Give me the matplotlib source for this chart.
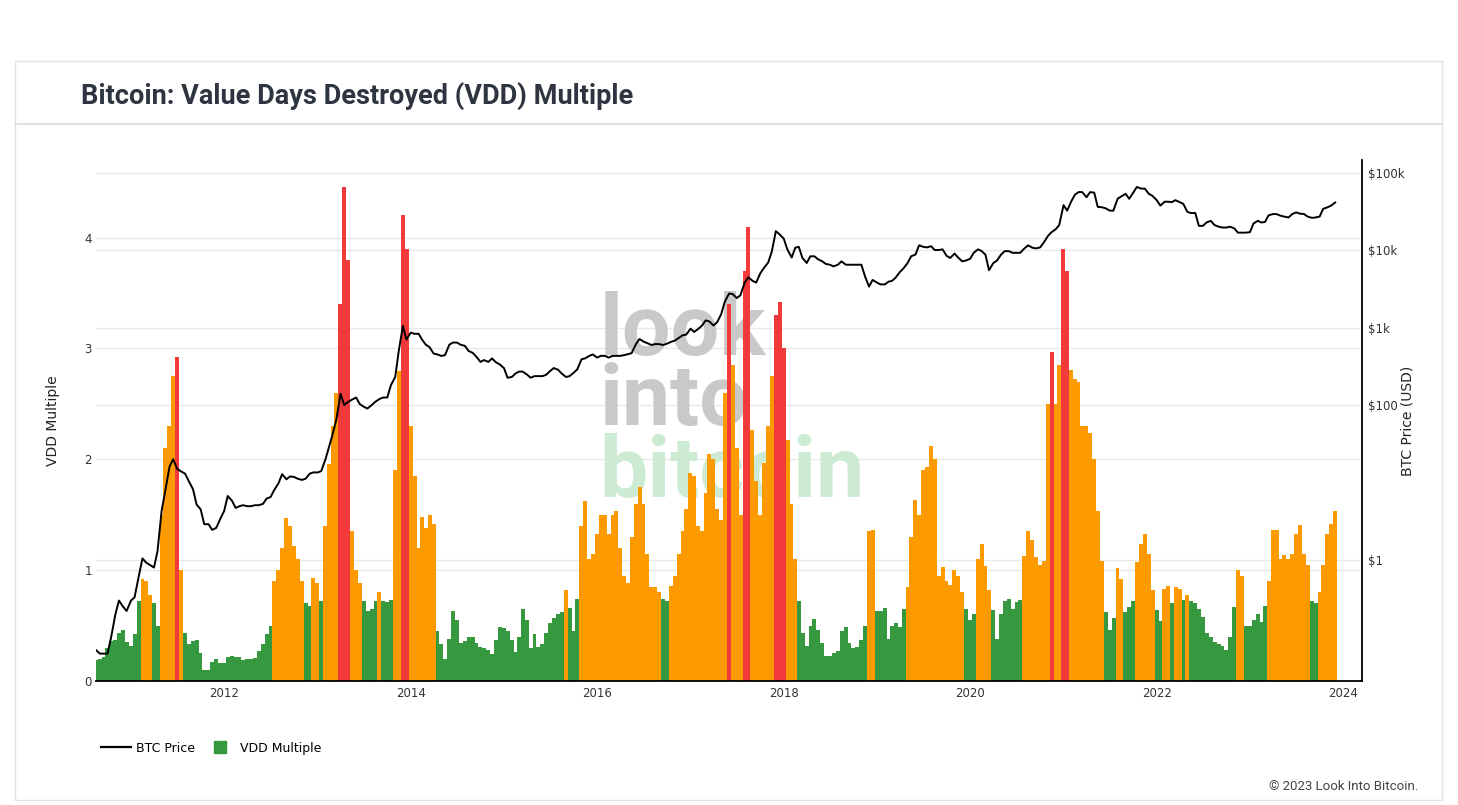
import matplotlib
matplotlib.use("Agg")
import matplotlib.pyplot as plt
import matplotlib.dates as mdates
from matplotlib.lines import Line2D
from matplotlib.patches import Rectangle
from matplotlib.ticker import NullLocator
import numpy as np
import pandas as pd

# VDD multiple, every half month (1st and 15th), starting 2010-08-15
vdd_2010 = [0.19, 0.2, 0.22, 0.3, 0.36, 0.37, 0.43, 0.46, 0.35]
vdd_2011 = [0.32, 0.42, 0.72, 0.92, 0.9, 0.78, 0.7, 0.5, 1.5, 2.1, 2.3, 2.75,
            2.92, 1.0, 0.43, 0.33, 0.36, 0.37, 0.25, 0.1, 0.1, 0.17, 0.2, 0.16]
vdd_2012 = [0.16, 0.22, 0.23, 0.22, 0.22, 0.19, 0.2, 0.2, 0.21, 0.27, 0.33, 0.42,
            0.5, 0.9, 1.0, 1.2, 1.47, 1.4, 1.22, 1.1, 0.9, 0.7, 0.68, 0.93]
vdd_2013 = [0.88, 0.72, 1.4, 1.96, 2.3, 2.6, 3.4, 4.46, 3.8, 1.35, 1.0, 0.88,
            0.72, 0.63, 0.65, 0.72, 0.8, 0.72, 0.71, 0.73, 1.9, 2.8, 4.2, 3.9]
vdd_2014 = [2.3, 1.85, 1.2, 1.48, 1.38, 1.5, 1.42, 0.45, 0.33, 0.2, 0.38, 0.63,
            0.55, 0.34, 0.36, 0.4, 0.4, 0.34, 0.31, 0.3, 0.28, 0.24, 0.37, 0.49]
vdd_2015 = [0.48, 0.45, 0.37, 0.26, 0.4, 0.65, 0.55, 0.3, 0.42, 0.31, 0.33, 0.43,
            0.52, 0.57, 0.6, 0.62, 0.82, 0.66, 0.45, 0.74, 1.4, 1.62, 1.1, 1.15]
vdd_2016 = [1.33, 1.5, 1.5, 1.33, 1.5, 1.53, 1.2, 0.95, 0.88, 1.3, 1.6, 1.75,
            1.6, 1.15, 0.85, 0.85, 0.8, 0.74, 0.72, 0.86, 0.95, 1.15, 1.35, 1.55]
vdd_2017 = [1.88, 1.85, 1.4, 1.35, 1.7, 2.05, 2.0, 1.55, 1.45, 2.6, 3.4, 2.85,
            2.1, 1.5, 3.7, 4.1, 2.26, 1.8, 1.5, 1.97, 2.3, 2.75, 3.3, 3.42]
vdd_2018 = [3.0, 2.17, 1.6, 1.1, 0.72, 0.43, 0.32, 0.5, 0.56, 0.46, 0.34, 0.23,
            0.23, 0.25, 0.27, 0.45, 0.49, 0.34, 0.3, 0.31, 0.37, 0.5, 1.35, 1.36]
vdd_2019 = [0.63, 0.63, 0.66, 0.38, 0.5, 0.52, 0.49, 0.65, 0.85, 1.3, 1.63, 1.5,
            1.9, 1.93, 2.12, 2.0, 0.95, 1.03, 0.9, 0.87, 1.0, 0.95, 0.8, 0.65]
vdd_2020 = [0.55, 0.6, 1.1, 1.24, 1.04, 0.82, 0.64, 0.38, 0.6, 0.72, 0.74, 0.65,
            0.71, 0.73, 1.13, 1.35, 1.27, 1.12, 1.05, 1.08, 2.5, 2.97, 2.5, 2.85]
vdd_2021 = [3.9, 3.7, 2.81, 2.72, 2.7, 2.3, 2.3, 2.24, 2.0, 1.53, 1.08, 0.62,
            0.46, 0.57, 1.02, 0.92, 0.62, 0.67, 0.72, 1.07, 1.24, 1.33, 1.15, 0.82]
vdd_2022 = [0.64, 0.54, 0.83, 0.86, 0.7, 0.85, 0.83, 0.73, 0.78, 0.72, 0.7, 0.65,
            0.58, 0.43, 0.4, 0.35, 0.33, 0.32, 0.28, 0.4, 0.67, 1.0, 0.95, 0.5]
vdd_2023 = [0.5, 0.55, 0.6, 0.53, 0.68, 0.9, 1.36, 1.36, 1.1, 1.14, 1.1, 1.15,
            1.33, 1.41, 1.15, 1.05, 0.72, 0.7, 0.8, 1.05, 1.33, 1.42, 1.53]

# BTC price (USD) on the same dates
price_2010 = [0.07, 0.062, 0.062, 0.062, 0.1, 0.2, 0.3, 0.25, 0.22]
price_2011 = [0.3, 0.33, 0.63, 1.05, 0.93, 0.87, 0.8, 1.3, 4.3, 7.7, 16, 20,
              15, 14, 13, 10.5, 8.2, 5.2, 4.5, 2.9, 2.9, 2.45, 2.6, 3.3]
price_2012 = [4.3, 6.7, 5.8, 4.7, 4.95, 5.1, 4.95, 4.95, 5.1, 5.1, 5.3, 6.2,
              6.5, 8, 9.8, 12.8, 11, 12, 11.8, 11.2, 10.8, 11.2, 13, 13.5]
price_2013 = [13.5, 14, 20, 29, 42, 64, 140, 100, 110, 117, 125, 103,
              95, 90, 100, 110, 120, 125, 125, 180, 230, 500, 1050, 700]
price_2014 = [860, 830, 830, 690, 600, 560, 460, 450, 430, 440, 600, 640,
              640, 600, 580, 500, 470, 420, 360, 380, 360, 400, 355, 335]
price_2015 = [300, 225, 230, 255, 270, 270, 248, 225, 236, 236, 236, 245,
              275, 300, 285, 255, 230, 236, 261, 288, 390, 400, 430, 450]
price_2016 = [409, 431, 431, 409, 430, 431, 431, 440, 453, 467, 611, 711,
              657, 630, 594, 611, 611, 594, 620, 650, 680, 730, 794, 811]
price_2017 = [965, 877, 965, 1063, 1235, 1200, 1063, 1170, 1490, 2150, 2750, 2700,
              2400, 2600, 3800, 4450, 4000, 3800, 5000, 5850, 6900, 9500, 17500, 16000]
price_2018 = [14000, 10200, 8000, 10700, 11000, 7900, 6800, 8300, 8300, 7600, 7140, 6600,
              6460, 6150, 6460, 7140, 6460, 6460, 6460, 6460, 6460, 4600, 3370, 4110]
price_2019 = [3800, 3600, 3600, 3900, 4000, 4400, 5200, 5800, 6800, 8300, 8740, 11500,
              11000, 10800, 11200, 10000, 10000, 10200, 8400, 7900, 9000, 8000, 7140, 7300]
price_2020 = [7700, 9200, 10200, 9700, 8700, 5500, 6800, 7300, 8700, 9660, 9660, 9200,
              9200, 9200, 10500, 11500, 10700, 10500, 10800, 12400, 15200, 17000, 18500, 21000]
price_2021 = [38000, 32200, 43000, 52000, 55900, 55900, 48000, 55900, 55000, 36000, 35600, 34500,
              32200, 32200, 46000, 49000, 53100, 45800, 55000, 65000, 62000, 62000, 53100, 50000]
price_2022 = [44000, 37400, 42000, 42000, 41400, 44000, 41400, 39400, 31000, 30000, 30000, 20500,
              20500, 22650, 23800, 21000, 20000, 19500, 19500, 20000, 19000, 16750, 16750, 16750]
price_2023 = [17000, 22000, 23800, 22650, 23000, 28000, 29100, 29100, 27700, 27000, 26300, 29000,
              30600, 29500, 29100, 27000, 26000, 26300, 27000, 34000, 35600, 37400, 41000]

price_ticks = [1, 100, 1000, 10000, 100000]
price_tick_labels = ["$1", "$100", "$1k", "$10k", "$100k"]

vdd = np.concatenate([vdd_2010, vdd_2011, vdd_2012, vdd_2013, vdd_2014, vdd_2015, vdd_2016,
                      vdd_2017, vdd_2018, vdd_2019, vdd_2020, vdd_2021, vdd_2022, vdd_2023])
price = np.concatenate([price_2010, price_2011, price_2012, price_2013, price_2014, price_2015,
                        price_2016, price_2017, price_2018, price_2019, price_2020, price_2021,
                        price_2022, price_2023])
dates = pd.date_range("2010-08-15", periods=len(vdd), freq="SMS")

# each column covers the half month around its date, edges halfway between samples
nums = mdates.date2num(dates)
edges = np.concatenate([[nums[0] - 7.5], (nums[:-1] + nums[1:]) / 2, [nums[-1] + 7.5]])

GREEN, ORANGE, RED = "#36993f", "#fd9a00", "#f23a3a"
colors = np.where(vdd >= 2.9, RED, np.where(vdd >= 0.75, ORANGE, GREEN))

W, H = 1458, 805
fig = plt.figure(figsize=(W / 100, H / 100), dpi=100)

# card frame + header
fig.add_artist(Rectangle((15 / W, 1 - 800 / H), (1442 - 15) / W, (800 - 61) / H,
                         transform=fig.transFigure, fill=False, edgecolor="#e2e2e2", lw=1))
fig.add_artist(Line2D([15 / W, 1442 / W], [1 - 124 / H] * 2, color="#e2e2e2", lw=1.5))
fig.text(81 / W, 1 - 104 / H, "Bitcoin: Value Days Destroyed (VDD) Multiple",
         fontfamily="Roboto", fontweight="bold", fontsize=19.5, color="#2f3540", va="baseline")

ax = fig.add_axes([96 / W, 1 - 681 / H, 1266 / W, 521 / H])
ax2 = ax.twinx()

# BTC price (log axis on the right)
ax2.semilogy(nums, price, color="black", lw=1.4, zorder=3)
ax2.set_ylim(0.0275, 145000)
ax2.set_yticks(price_ticks)
ax2.set_yticklabels(price_tick_labels)
ax2.yaxis.set_minor_locator(NullLocator())

# VDD columns, one filled step outline per colour band so no seams show
for c in (GREEN, ORANGE, RED):
    ax.stairs(np.where(colors == c, vdd, 0.0), edges, fill=True, color=c,
              linewidth=0, zorder=2)
ax.set_ylim(0, 4.70)
ax.set_yticks([0, 1, 2, 3, 4])
ax.set_axisbelow(True)
ax.yaxis.grid(True, color="#e9e9e9", lw=1, zorder=0)

# gridlines of the price axis, kept under the columns
for v in price_ticks:
    ax.plot([0, 1], [v, v], transform=ax2.get_yaxis_transform(), color="#e9e9e9",
            lw=1, zorder=0.5, scalex=False, scaley=False)

# watermark
wm = dict(transform=ax.transAxes, fontfamily="Roboto", fontweight="bold", fontsize=62,
          va="baseline", ha="left", zorder=1)
ax.text(0.398, 0.626, "look", color="#c9c9c9", **wm)
ax.text(0.398, 0.491, "into", color="#c9c9c9", **wm)
ax.text(0.398, 0.353, "bitcoin", color="#cdebd3", **wm)

ax.set_xlim(mdates.date2num(pd.Timestamp("2010-08-17")),
            mdates.date2num(pd.Timestamp("2024-03-15")))
ax.xaxis.set_major_locator(mdates.YearLocator(2))
ax.xaxis.set_major_formatter(mdates.DateFormatter("%Y"))

for a in (ax, ax2):
    for s in ("top", "left"):
        a.spines[s].set_visible(False)
ax.spines["right"].set_visible(False)
ax2.spines["bottom"].set_visible(False)
ax.spines["bottom"].set_color("black")
ax.spines["bottom"].set_linewidth(1.3)
ax2.spines["right"].set_color("black")
ax2.spines["right"].set_linewidth(1.3)

ax.tick_params(axis="x", length=0, pad=4, labelsize=8.5, labelcolor="#333")
ax.tick_params(axis="y", length=0, pad=3, labelsize=8.5, labelcolor="#333")
ax2.tick_params(axis="y", length=0, pad=4.5, labelsize=8.5, labelcolor="#333")

ax.set_ylabel("VDD Multiple", fontsize=10, color="#222")
ax.yaxis.set_label_coords(-0.0284, 0.5)
ax2.set_ylabel("BTC Price (USD)", fontsize=10, color="#222")
ax2.yaxis.set_label_coords(1.0308, 0.5)

handles = [Line2D([], [], color="black", lw=1.6),
           Line2D([], [], marker="s", linestyle="none", markersize=9, color=GREEN)]
fig.legend(handles, ["BTC Price", "VDD Multiple"], loc="center left",
           bbox_to_anchor=(101 / W, 1 - 748 / H), ncol=2, frameon=False, fontsize=9,
           handlelength=2.4, handletextpad=0.4, columnspacing=0.8,
           borderpad=0, borderaxespad=0)

fig.text(1418 / W, 1 - 786 / H, "\u00a9 2023 Look Into Bitcoin.", fontfamily="Roboto",
         fontsize=9.5, color="#444", ha="right", va="center")

fig.savefig("out.png", dpi=100)
